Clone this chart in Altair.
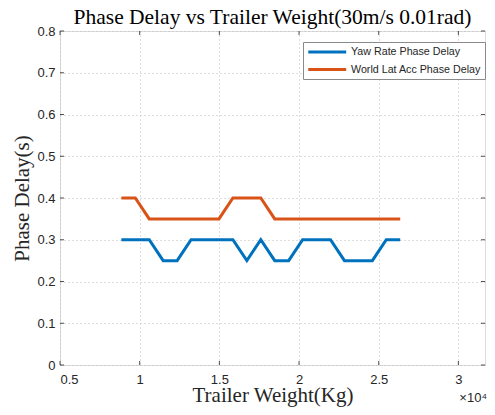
import altair as alt
import pandas as pd

# ---- data ----
weights = [8850, 9725, 10600, 11475, 12350, 13225, 14100, 14975, 15850, 16725,
           17600, 18475, 19350, 20225, 21100, 21975, 22850, 23725, 24600, 25475, 26350]
yaw_delay = [0.30, 0.30, 0.30, 0.25, 0.25, 0.30, 0.30, 0.30, 0.30, 0.25,
             0.30, 0.25, 0.25, 0.30, 0.30, 0.30, 0.25, 0.25, 0.25, 0.30, 0.30]
lat_delay = [0.40, 0.40, 0.35, 0.35, 0.35, 0.35, 0.35, 0.35, 0.40, 0.40,
             0.40, 0.35, 0.35, 0.35, 0.35, 0.35, 0.35, 0.35, 0.35, 0.35, 0.35]
series_names = ["Yaw Rate Phase Delay", "World Lat Acc Phase Delay"]
series_colors = ["#0072BD", "#D95319"]
x_ticks = [5000, 10000, 15000, 20000, 25000, 30000]
y_ticks = [0, 0.1, 0.2, 0.3, 0.4, 0.5, 0.6, 0.7, 0.8]
x_domain = [5000, 31670]
y_domain = [0, 0.8]
title_text = "Phase Delay vs Trailer Weight(30m/s 0.01rad)"
x_title = "Trailer Weight(Kg)"
y_title = "Phase Delay(s)"
exponent_label = ["×10⁴"]

W, H = 425, 334
TICK = 4

rows = []
for w, a, b in zip(weights, yaw_delay, lat_delay):
    rows.append({"w": w, "delay": a, "series": series_names[0]})
    rows.append({"w": w, "delay": b, "series": series_names[1]})
df = pd.DataFrame(rows)

xscale = alt.Scale(domain=x_domain, nice=False, zero=False)
yscale = alt.Scale(domain=y_domain, nice=False, zero=False)

label_font = "Liberation Sans"
serif = "Liberation Serif"
ink = "#262626"

x_axis = alt.Axis(values=x_ticks, labelExpr="datum.value / 10000 + ''",
                  grid=True, gridDash=[1, 3], gridColor="#bdbdbd", gridWidth=1,
                  domain=False, ticks=False, labelFont=label_font, labelFontSize=13,
                  labelColor=ink, labelPadding=8,
                  title=x_title, titleFont=serif, titleFontSize=21,
                  titleFontWeight="normal", titleColor=ink,
                  titleBaseline="alphabetic", titleX=W / 2, titleY=36)
y_axis = alt.Axis(values=y_ticks, format=".1~f",
                  grid=True, gridDash=[1, 3], gridColor="#bdbdbd", gridWidth=1,
                  domain=False, ticks=False, labelFont=label_font, labelFontSize=13,
                  labelColor=ink, labelPadding=5,
                  title=y_title, titleFont=serif, titleFontSize=21,
                  titleFontWeight="normal", titleColor=ink,
                  titleBaseline="alphabetic", titleX=-32, titleY=H / 2)

lines = alt.Chart(df).mark_line(strokeWidth=3).encode(
    x=alt.X("w:Q", scale=xscale, axis=x_axis),
    y=alt.Y("delay:Q", scale=yscale, axis=y_axis),
    color=alt.Color("series:N",
                    scale=alt.Scale(domain=series_names, range=series_colors),
                    sort=series_names,
                    legend=alt.Legend(title=None, orient="none", legendX=243, legendY=11,
                                      direction="vertical", symbolType="M-1,0H7",
                                      symbolStrokeWidth=3, symbolSize=90,
                                      labelFont=label_font, labelFontSize=10.7,
                                      labelColor=ink, labelOffset=31.5,
                                      strokeColor="#8a8a8a", fillColor="white",
                                      padding=3.5, rowPadding=4.5)),
)

xt = pd.DataFrame({"w": x_ticks})
yt = pd.DataFrame({"d": y_ticks})
x_bottom = alt.Chart(xt).mark_rule(color=ink, strokeWidth=0.8).encode(
    x=alt.X("w:Q", scale=xscale), y=alt.value(H), y2=alt.value(H - TICK))
x_top = alt.Chart(xt).mark_rule(color=ink, strokeWidth=0.8).encode(
    x=alt.X("w:Q", scale=xscale), y=alt.value(0), y2=alt.value(TICK))
y_left = alt.Chart(yt).mark_rule(color=ink, strokeWidth=0.8).encode(
    y=alt.Y("d:Q", scale=yscale), x=alt.value(0), x2=alt.value(TICK))
y_right = alt.Chart(yt).mark_rule(color=ink, strokeWidth=0.8).encode(
    y=alt.Y("d:Q", scale=yscale), x=alt.value(W), x2=alt.value(W - TICK))

exp_text = alt.Chart(pd.DataFrame({"t": exponent_label})).mark_text(
    font=label_font, fontSize=13, color=ink, align="right", baseline="middle"
).encode(text="t:N", x=alt.value(W + 2), y=alt.value(H + 33))

chart = alt.layer(x_bottom, x_top, y_left, y_right, lines, exp_text).properties(
    width=W, height=H,
    title=alt.TitleParams(title_text, font=serif, fontSize=21.5, fontWeight="normal",
                          color="black", anchor="middle", offset=1.5, dy=5,
                          frame="group"),
    autosize=alt.AutoSizeParams(type="none"),
    padding={"left": 52, "top": 23, "right": 2, "bottom": 42},
).configure_view(stroke="#7a7a7a", strokeWidth=1).configure(background="white")

chart.save("out.html", embed_options={"renderer": "svg", "actions": False})
